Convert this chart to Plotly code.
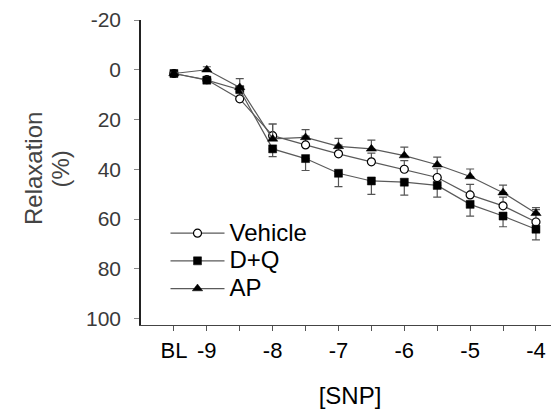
import plotly.graph_objects as go

# ---- data ----
x_vals = [-9.5, -9, -8.5, -8, -7.5, -7, -6.5, -6, -5.5, -5, -4.5, -4]
tick_text = ["BL", "-9", "", "-8", "", "-7", "", "-6", "", "-5", "", "-4"]

vehicle = [1.5, 4.0, 11.7, 26.5, 30.2, 33.8, 37.0, 40.0, 43.3, 50.3, 54.7, 61.2]
vehicle_err_up = [0.5, 1.0, 3.0, 4.7, 3.5, 3.5, 3.5, 3.5, 3.5, 4.2, 3.5, 5.0]

dq = [1.5, 4.2, 8.0, 31.8, 35.7, 41.6, 44.7, 45.2, 46.5, 54.1, 58.8, 64.1]
dq_err_down = [0.5, 1.0, 1.0, 3.1, 4.8, 5.4, 5.4, 5.2, 4.7, 4.7, 4.3, 4.3]

ap = [1.5, 0.0, 7.1, 27.8, 27.2, 30.8, 31.8, 34.5, 38.2, 42.9, 49.4, 57.7]
ap_err_up = [0.5, 1.2, 3.5, 6.0, 3.1, 3.2, 3.5, 3.4, 3.1, 3.0, 3.0, 2.3]

y_ticks = [-20, 0, 20, 40, 60, 80, 100]
y_tick_text = ["-20", "0", "20", "40", "60", "80", "100"]

series_names = ["Vehicle", "D+Q", "AP"]

FONT = "Liberation Sans, Arial, sans-serif"
LINE_C = "#5a5a5a"
ERR_C = "#555555"

zeros = [0] * len(x_vals)


def legend_label(name):
    return '<span style="font-size:24px">' + name + '</span>'


fig = go.Figure()

fig.add_trace(go.Scatter(
    x=x_vals, y=vehicle, name=legend_label(series_names[0]), mode="lines+markers",
    line=dict(color=LINE_C, width=1.2),
    marker=dict(symbol="circle", size=8, color="white", line=dict(color="black", width=1.2)),
    error_y=dict(type="data", symmetric=False, array=zeros, arrayminus=vehicle_err_up,
                 color=ERR_C, thickness=1.2, width=4),
))
fig.add_trace(go.Scatter(
    x=x_vals, y=dq, name=legend_label(series_names[1]), mode="lines+markers",
    line=dict(color=LINE_C, width=1.2),
    marker=dict(symbol="square", size=8, color="black", line=dict(color="black", width=0.5)),
    error_y=dict(type="data", symmetric=False, array=dq_err_down, arrayminus=zeros,
                 color=ERR_C, thickness=1.2, width=4),
))
fig.add_trace(go.Scatter(
    x=x_vals, y=ap, name=legend_label(series_names[2]), mode="lines+markers",
    line=dict(color=LINE_C, width=1.2),
    marker=dict(symbol="triangle-up", size=9, color="black", line=dict(color="black", width=0.5)),
    error_y=dict(type="data", symmetric=False, array=zeros, arrayminus=ap_err_up,
                 color=ERR_C, thickness=1.2, width=4),
))

L, R, T, B = 133, 8, 12, 92
W, H = 559, 409
PW, PH = W - L - R, H - T - B

fig.update_layout(
    width=W, height=H,
    margin=dict(l=L, r=R, t=T, b=B),
    paper_bgcolor="white", plot_bgcolor="white",
    font=dict(family=FONT, color="black"),
    showlegend=True,
    legend=dict(
        x=(157.5 - L) / PW, y=1 - (206.3 - T) / PH, xanchor="left", yanchor="top",
        font=dict(size=19, family=FONT, color="black"),
        bgcolor="rgba(0,0,0,0)", tracegroupgap=0, itemwidth=54,
    ),
    xaxis=dict(
        range=[-10, -3.65], automargin=False,
        tickmode="array", tickvals=x_vals, ticktext=tick_text,
        ticks="outside", ticklen=5, tickcolor="#555", tickwidth=1,
        showline=True, linecolor="#444", linewidth=1.2,
        showgrid=False, zeroline=False,
        tickfont=dict(size=22, family=FONT, color="black"),
        ticklabelstandoff=0,
        title=dict(text="[SNP]", font=dict(size=24, family=FONT, color="black"), standoff=25),
    ),
    yaxis=dict(
        range=[102.6, -20], automargin=False,
        tickmode="array", tickvals=y_ticks, ticktext=y_tick_text,
        ticks="outside", ticklen=5, tickcolor="#888", tickwidth=1,
        showline=True, linecolor="#222", linewidth=1.5,
        showgrid=False, zeroline=False,
        tickfont=dict(size=21, family=FONT, color="#3a3a3a"),
        ticklabelstandoff=9,
    ),
    annotations=[
        dict(text="Relaxation", textangle=-90,
             xref="paper", yref="paper", x=(26 - L) / PW, y=1 - (161 - T) / PH,
             xanchor="center", yanchor="middle", showarrow=False,
             font=dict(size=24, family=FONT, color="#444")),
        dict(text="(%)", textangle=-90,
             xref="paper", yref="paper", x=(52.5 - L) / PW, y=1 - (161 - T) / PH,
             xanchor="center", yanchor="middle", showarrow=False,
             font=dict(size=24, family=FONT, color="#444")),
    ],
)

fig.write_html("out.html")
